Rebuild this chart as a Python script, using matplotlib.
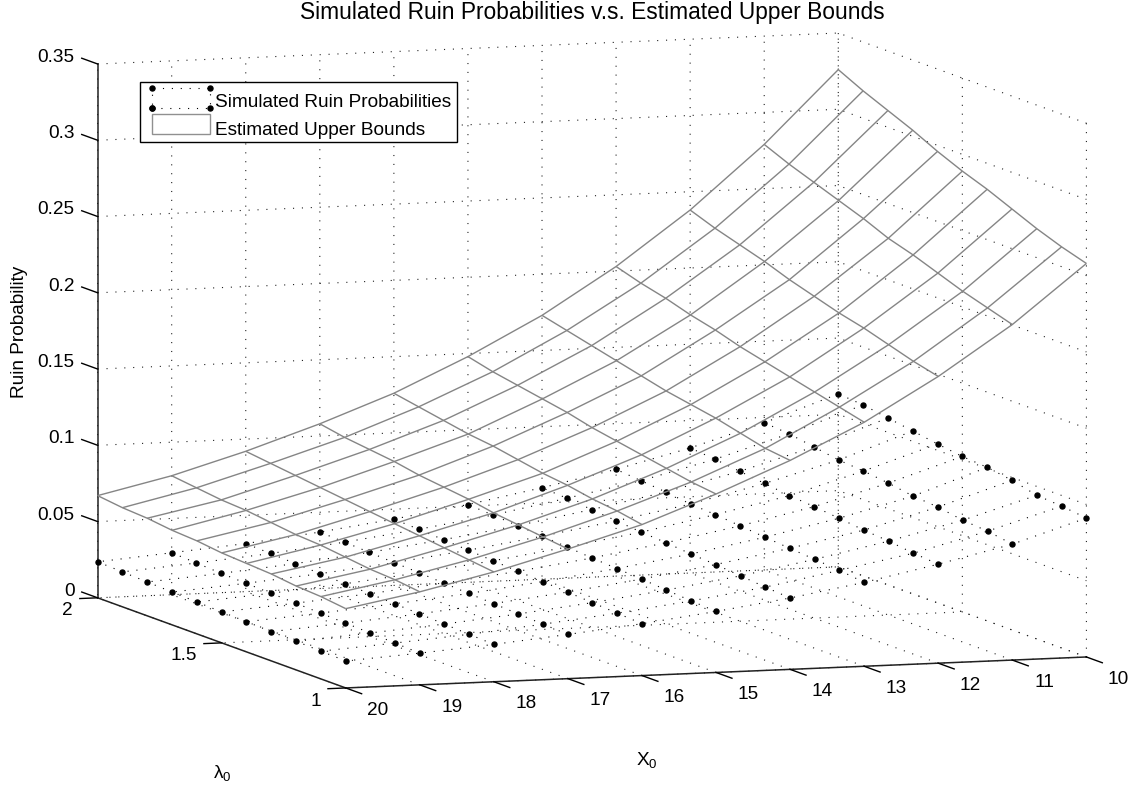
import matplotlib
matplotlib.use('Agg')
import matplotlib.pyplot as plt
import numpy as np
from matplotlib.legend_handler import HandlerBase
from matplotlib.lines import Line2D
from matplotlib.patches import Rectangle
from mpl_toolkits.mplot3d import proj3d

plt.rcParams['font.family'] = ['Liberation Sans', 'DejaVu Sans']
plt.rcParams['mathtext.default'] = 'regular'
plt.rcParams['font.size'] = 13.7
plt.rcParams['grid.linestyle'] = (0, (1, 7))
plt.rcParams['grid.linewidth'] = 0.8
plt.rcParams['grid.color'] = '#222222'

x0_values = [10, 11, 12, 13, 14, 15, 16, 17, 18, 19, 20]
lambda_values = [1.0, 1.1, 1.2, 1.3, 1.4, 1.5, 1.6, 1.7, 1.8, 1.9, 2.0]

# one row per X0, one column per lambda0
upper_bounds = [
    [.258, .263, .269, .276, .283, .289, .296, .304, .311, .318, .326],
    [.220, .225, .230, .236, .242, .247, .254, .260, .266, .272, .279],
    [.188, .192, .197, .202, .206, .211, .216, .222, .227, .232, .238],
    [.160, .164, .168, .172, .176, .180, .185, .189, .194, .198, .203],
    [.137, .139, .143, .147, .150, .153, .157, .161, .165, .169, .173],
    [.117, .119, .122, .125, .128, .131, .135, .138, .141, .144, .148],
    [.099, .102, .104, .107, .109, .112, .115, .117, .120, .123, .126],
    [.085, .087, .089, .091, .094, .096, .098, .101, .103, .105, .108],
    [.072, .074, .076, .078, .080, .082, .084, .086, .088, .090, .092],
    [.061, .063, .064, .066, .068, .069, .071, .073, .074, .076, .078],
    [.052, .054, .055, .057, .058, .059, .061, .062, .064, .065, .067],
]
simulated = [
    [.0911, .0930, .0942, .0981, .1007, .1019, .1042, .1068, .1094, .1121, .1134],
    [.0760, .0786, .0799, .0826, .0839, .0865, .0885, .0898, .0925, .0952, .0965],
    [.0649, .0662, .0682, .0695, .0714, .0731, .0744, .0765, .0785, .0805, .0820],
    [.0550, .0570, .0583, .0596, .0610, .0625, .0640, .0650, .0670, .0685, .0700],
    [.0468, .0480, .0495, .0510, .0520, .0535, .0545, .0560, .0575, .0590, .0600],
    [.0400, .0410, .0422, .0435, .0445, .0455, .0468, .0480, .0490, .0500, .0510],
    [.0340, .0350, .0360, .0370, .0380, .0388, .0398, .0408, .0418, .0427, .0435],
    [.0290, .0298, .0306, .0315, .0322, .0331, .0340, .0347, .0355, .0363, .0370],
    [.0245, .0252, .0260, .0268, .0275, .0282, .0288, .0295, .0302, .0309, .0315],
    [.0208, .0215, .0222, .0228, .0234, .0240, .0246, .0252, .0258, .0267, .0275],
    [.0177, .0182, .0188, .0192, .0198, .0203, .0209, .0215, .0222, .0229, .0236],
]

x_ticks = [10, 11, 12, 13, 14, 15, 16, 17, 18, 19, 20]
y_ticks = [1, 1.5, 2]
y_labels = ['1', '1.5', '2']
z_ticks = [0, 0.05, 0.1, 0.15, 0.2, 0.25, 0.3, 0.35]
z_labels = ['0', '0.05', '0.1', '0.15', '0.2', '0.25', '0.3', '0.35']

DOTS = (0, (1, 7))


class MeshHandler(HandlerBase):
    # dotted box with dots in the corners, like a mesh legend entry
    def create_artists(self, legend, orig, xd, yd, w, h, fontsize, trans):
        y0, y1 = h / 2 - 5, h / 2 + 9
        line = Line2D([0, w, w, 0, 0], [y0, y0, y1, y1, y0], color='k',
                      lw=0.8, ls=DOTS, marker='o', ms=3.6, transform=trans)
        return [line]


class BoxHandler(HandlerBase):
    def create_artists(self, legend, orig, xd, yd, w, h, fontsize, trans):
        box = Rectangle((0, h / 2 - 3.6), w, 14, fc='white', ec='#909090', lw=1.0, transform=trans)
        return [box]


fig = plt.figure(figsize=(11.36, 7.92), dpi=100)
# square axes, bigger than the figure so the box centre lands at the right pixel
ax = fig.add_axes([-24.2 / 1136, -184.7 / 792, 1200 / 1136, 1200 / 792], projection='3d',
                  proj_type='ortho', computed_zorder=False)
ax.view_init(elev=7.08, azim=251.26)
ax.set_box_aspect((782.4, 772.6, 538.1), zoom=0.99)
ax.patch.set_visible(False)

ax.set_xlim(20, 10)
ax.set_ylim(1, 2)
ax.set_zlim(0, 0.35)

X, Y = np.meshgrid(x0_values, lambda_values, indexing='ij')
Z_sim = np.array(simulated)
Z_up = np.array(upper_bounds)

for i in range(len(x0_values)):
    ax.plot(X[i], Y[i], Z_sim[i], color='k', lw=0.8, ls=DOTS, marker='o', ms=3.6)
for j in range(len(lambda_values)):
    ax.plot(X[:, j], Y[:, j], Z_sim[:, j], color='k', lw=0.8, ls=DOTS)
ax.plot_wireframe(X, Y, Z_up, color='#858585', linewidth=1.0)

ax.set_xticks(x_ticks)
ax.set_yticks(y_ticks)
ax.set_zticks(z_ticks)
ax.zaxis.set_ticks_position('upper')
ax.zaxis._get_tickdir = lambda pos: 1

for axis in (ax.xaxis, ax.yaxis, ax.zaxis):
    axis.set_tick_params(label1On=False, label2On=False)
    axis.set_pane_color((1, 1, 1, 0))
    axis.pane.set_edgecolor((1, 1, 1, 0))
    axis.line.set_color('#222222')
    axis.line.set_linewidth(1.1)
    axis._axinfo['tick']['linewidth'] = {True: 1.0, False: 0.5}
    axis._axinfo['tick']['color'] = 'k'

ax.xaxis._axinfo['tick']['inward_factor'] = 0.8
ax.xaxis._axinfo['tick']['outward_factor'] = 0.0
ax.yaxis._axinfo['tick']['inward_factor'] = 0.3
ax.yaxis._axinfo['tick']['outward_factor'] = 0.0
ax.zaxis._axinfo['tick']['inward_factor'] = 0.0
ax.zaxis._axinfo['tick']['outward_factor'] = 0.8


def tick_text(x, y, z, s, ha):
    # tick labels sit off the axes the way MATLAB puts them
    px, py, _ = proj3d.proj_transform(x, y, z, ax.get_proj())
    ax.text2D(px, py, s, transform=ax.transData, ha=ha, va='center')


for v in x_ticks:
    tick_text(v, 1 - 0.129, -0.0069, str(v), 'center')
for v, s in zip(y_ticks, y_labels):
    tick_text(20.337, v, -0.0079, s, 'right')
for v, s in zip(z_ticks, z_labels):
    tick_text(20.31, 2, v + 0.0049, s, 'right')

fig.text(647 / 1136, 1 - 760 / 792, 'X$_0$', ha='center', va='center')
fig.text(222 / 1136, 1 - 773 / 792, 'λ$_0$', ha='center', va='center')
fig.text(20 / 1136, 1 - 332 / 792, 'Ruin Probability', rotation=90, ha='center', va='center')
fig.text(592 / 1136, 1 - 12.5 / 792, 'Simulated Ruin Probabilities v.s. Estimated Upper Bounds',
         ha='center', va='center', fontsize=16.4)

# legend frame is drawn apart, its padding is not even on all sides
fig.add_artist(Rectangle((1.40, 6.50), 3.17, 0.60, fc='white', ec='k', lw=1.0,
                         transform=fig.dpi_scale_trans, zorder=4))
mesh_key = Line2D([], [])
box_key = Rectangle((0, 0), 1, 1)
fig.legend([mesh_key, box_key], ['Simulated Ruin Probabilities', 'Estimated Upper Bounds'],
           loc='upper left', bbox_to_anchor=(152 / 1136, 1 - 94 / 792), bbox_transform=fig.transFigure,
           frameon=False, borderaxespad=0, borderpad=0,
           labelspacing=0.56, handlelength=3.03, handletextpad=0.28,
           handler_map={mesh_key: MeshHandler(), box_key: BoxHandler()})

fig.savefig('out.png', dpi=100)
